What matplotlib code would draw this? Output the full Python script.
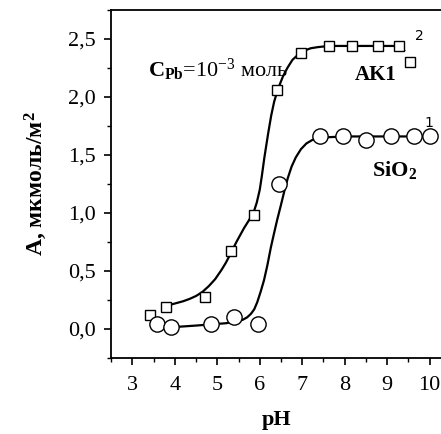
import numpy as np
import matplotlib.pyplot as plt
from matplotlib.ticker import MultipleLocator, FuncFormatter

plt.rcParams['font.family'] = ['Liberation Serif', 'DejaVu Serif']
plt.rcParams['mathtext.fontset'] = 'custom'
plt.rcParams['mathtext.rm'] = 'Liberation Serif'
plt.rcParams['mathtext.bf'] = 'Liberation Serif:bold'
plt.rcParams['mathtext.it'] = 'Liberation Serif:italic'

# AK1 (squares), points
ph_ak1 = [3.41, 3.79, 4.70, 5.32, 5.86, 6.41, 6.97, 7.63, 8.17, 8.78, 9.27, 9.55]
a_ak1 = [0.12, 0.19, 0.28, 0.67, 0.98, 2.06, 2.38, 2.44, 2.44, 2.44, 2.44, 2.30]

# SiO2 (circles)
ph_sio2 = [3.59, 3.92, 4.86, 5.40, 5.97, 6.46, 7.41, 7.96, 8.51, 9.08, 9.63, 10.0]
a_sio2 = [0.04, 0.02, 0.04, 0.10, 0.04, 1.25, 1.66, 1.66, 1.63, 1.66, 1.66, 1.66]

# fitted curves
curve_ak1_x = [3.79, 3.90, 4.05, 4.20, 4.35, 4.50, 4.65, 4.80, 4.95, 5.10, 5.20, 5.30, 5.45,
               5.63, 5.75, 5.86, 5.93, 6.00, 6.05, 6.11, 6.20, 6.27, 6.34, 6.43, 6.55, 6.65,
               6.77, 6.89, 7.05, 7.20, 7.37, 7.63, 8.2, 8.8, 9.27, 9.40]
curve_ak1_y = [0.19, 0.21, 0.225, 0.24, 0.26, 0.285, 0.32, 0.37, 0.43, 0.51, 0.57, 0.64, 0.75,
               0.87, 0.94, 1.01, 1.09, 1.20, 1.32, 1.48, 1.69, 1.84, 1.96, 2.07, 2.18, 2.25,
               2.32, 2.36, 2.40, 2.42, 2.43, 2.44, 2.44, 2.44, 2.44, 2.40]

curve_sio2_x = [3.95, 4.10, 4.50, 4.85, 5.20, 5.45, 5.60, 5.70, 5.79, 5.87, 5.94, 6.02, 6.10,
                6.18, 6.26, 6.34, 6.41, 6.50, 6.58, 6.66, 6.75, 6.85, 6.97, 7.10, 7.24, 7.41,
                8.0, 9.0, 10.0]
curve_sio2_y = [0.03, 0.02, 0.03, 0.04, 0.05, 0.065, 0.08, 0.10, 0.13, 0.17, 0.23, 0.32, 0.42,
                0.55, 0.70, 0.83, 0.94, 1.07, 1.19, 1.30, 1.40, 1.48, 1.55, 1.60, 1.63, 1.65,
                1.66, 1.66, 1.66]

fig = plt.figure(figsize=(4.41, 4.34), dpi=100)
ax = fig.add_axes([0.252, 0.175, 0.75, 0.802])

ax.plot(curve_ak1_x, curve_ak1_y, color='black', lw=1.6, zorder=2)
ax.plot(curve_sio2_x, curve_sio2_y, color='black', lw=1.6, zorder=2)
ax.plot(ph_ak1, a_ak1, ls='none', marker='s', ms=7.8, mfc='white', mec='black', mew=1.0, zorder=3)
ax.plot(ph_sio2, a_sio2, ls='none', marker='o', ms=11, mfc='white', mec='black', mew=1.0, zorder=3)

ax.set_xlim(2.5, 10.29)
ax.set_ylim(-0.25, 2.75)
ax.spines['right'].set_visible(False)
for s in ['left', 'bottom', 'top']:
    ax.spines[s].set_linewidth(1.3)

ax.xaxis.set_major_locator(MultipleLocator(1))
ax.xaxis.set_minor_locator(MultipleLocator(0.5))
ax.yaxis.set_major_locator(MultipleLocator(0.5))
ax.yaxis.set_minor_locator(MultipleLocator(0.25))
ax.yaxis.set_major_formatter(FuncFormatter(lambda v, p: ('%.1f' % v).replace('.', ',')))
ax.tick_params(which='major', direction='out', length=5, width=1.2, labelsize=16, pad=6)
ax.tick_params(which='minor', direction='out', length=3, width=1.0)
ax.tick_params(axis='x', which='both', top=False)
ax.tick_params(axis='x', which='major', pad=8)

ax.set_xlabel('pH', fontsize=16, fontweight='bold', labelpad=11)
ax.set_ylabel(r'A, мкмоль/м$^\mathbf{2}$', fontsize=17, fontweight='bold', labelpad=14)

ax.text(3.36, 2.23, r'$\mathbf{C_{Pb}}$=10$^{-3}$ моль', fontsize=16, va='center', ha='left')
ax.text(8.72, 2.19, 'AK1', fontsize=15, fontweight='bold', ha='center', va='center')
ax.text(9.76, 2.53, '2', fontsize=10, family='DejaVu Sans', ha='center', va='center')
ax.text(9.99, 1.78, '1', fontsize=10, family='DejaVu Sans', ha='center', va='center')
ax.text(9.17, 1.37, r'$\mathbf{SiO_2}$', fontsize=16, ha='center', va='center')

fig.savefig('out.png', dpi=100)
